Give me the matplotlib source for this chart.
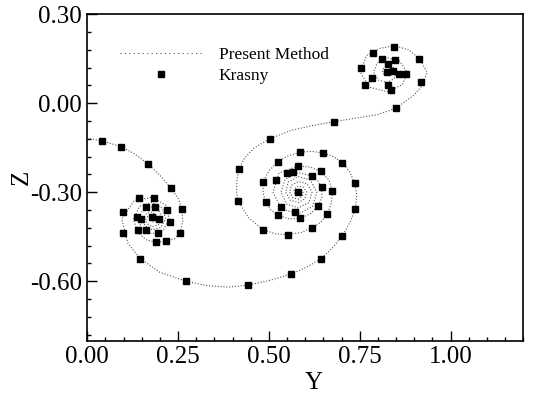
import matplotlib
matplotlib.use("Agg")
import matplotlib.pyplot as plt
from matplotlib.lines import Line2D
from matplotlib.ticker import MultipleLocator, AutoMinorLocator

# Present method: vortex sheet, one continuous curve (Y, Z) split by arm
arm_left_in = [
    (0.000, -0.118), (0.042, -0.127), (0.094, -0.147), (0.130, -0.170), (0.168, -0.205),
    (0.200, -0.243), (0.230, -0.285), (0.250, -0.320), (0.261, -0.356), (0.263, -0.398),
    (0.256, -0.437), (0.240, -0.457), (0.216, -0.465), (0.188, -0.469), (0.162, -0.460),
    (0.140, -0.437), (0.127, -0.390), (0.144, -0.348), (0.178, -0.334), (0.207, -0.354),
    (0.216, -0.390), (0.202, -0.419), (0.178, -0.426), (0.159, -0.413), (0.154, -0.390),
    (0.163, -0.371), (0.178, -0.367), (0.189, -0.376), (0.191, -0.390), (0.186, -0.399),
    (0.178, -0.400), (0.174, -0.395), (0.178, -0.390),
]
arm_left_out = [
    (0.183, -0.390), (0.184, -0.383), (0.178, -0.377), (0.168, -0.378), (0.162, -0.390),
    (0.165, -0.406), (0.178, -0.416), (0.195, -0.411), (0.205, -0.390), (0.199, -0.364),
    (0.178, -0.350), (0.153, -0.360), (0.140, -0.390), (0.150, -0.424), (0.178, -0.440),
    (0.209, -0.429), (0.226, -0.390), (0.216, -0.343), (0.178, -0.317), (0.129, -0.329),
    (0.095, -0.390), (0.112, -0.472), (0.146, -0.524), (0.200, -0.570), (0.273, -0.600),
    (0.330, -0.615), (0.390, -0.620), (0.443, -0.613), (0.500, -0.598), (0.561, -0.576),
    (0.605, -0.552), (0.643, -0.524), (0.675, -0.488), (0.702, -0.447), (0.724, -0.400),
    (0.738, -0.356), (0.742, -0.310), (0.736, -0.269), (0.722, -0.230), (0.702, -0.200),
    (0.678, -0.180), (0.650, -0.168), (0.618, -0.162), (0.586, -0.165),
]
arm_mid_in = [
    (0.552, -0.178), (0.524, -0.198), (0.500, -0.228), (0.484, -0.266), (0.484, -0.302),
    (0.491, -0.334), (0.506, -0.360), (0.526, -0.377), (0.556, -0.390), (0.586, -0.388),
    (0.615, -0.372), (0.636, -0.346), (0.646, -0.316), (0.645, -0.284), (0.635, -0.262),
    (0.619, -0.245), (0.581, -0.234), (0.545, -0.256), (0.533, -0.300), (0.549, -0.340),
    (0.581, -0.353), (0.610, -0.335), (0.619, -0.300), (0.605, -0.271), (0.581, -0.264),
    (0.562, -0.277), (0.557, -0.300), (0.566, -0.319), (0.581, -0.323), (0.592, -0.314),
    (0.594, -0.300), (0.589, -0.291), (0.581, -0.290), (0.577, -0.295), (0.581, -0.300),
]
arm_mid_out = [
    (0.581, -0.308), (0.574, -0.308), (0.569, -0.300), (0.571, -0.287), (0.581, -0.279),
    (0.595, -0.283), (0.604, -0.300), (0.599, -0.322), (0.581, -0.335), (0.559, -0.327),
    (0.546, -0.300), (0.553, -0.266), (0.581, -0.247), (0.614, -0.259), (0.632, -0.300),
    (0.620, -0.348), (0.581, -0.373), (0.535, -0.356), (0.511, -0.300), (0.528, -0.235),
    (0.581, -0.211), (0.616, -0.216), (0.643, -0.230), (0.666, -0.260), (0.675, -0.297),
    (0.672, -0.337), (0.660, -0.375), (0.642, -0.402), (0.619, -0.420), (0.588, -0.436),
    (0.553, -0.443), (0.518, -0.440), (0.485, -0.427), (0.444, -0.386), (0.415, -0.329),
    (0.411, -0.300), (0.412, -0.260), (0.417, -0.223), (0.433, -0.185), (0.459, -0.151),
    (0.502, -0.120), (0.560, -0.092), (0.620, -0.075), (0.680, -0.062), (0.740, -0.050),
    (0.800, -0.038), (0.849, -0.017),
]
arm_tip = [
    (0.898, 0.026), (0.924, 0.062), (0.935, 0.105), (0.915, 0.150), (0.885, 0.180),
    (0.845, 0.194), (0.805, 0.185), (0.769, 0.161), (0.751, 0.105), (0.777, 0.054),
    (0.826, 0.039), (0.868, 0.063), (0.880, 0.105), (0.860, 0.142), (0.826, 0.153),
    (0.798, 0.135), (0.788, 0.105), (0.802, 0.078), (0.826, 0.070), (0.845, 0.083),
    (0.850, 0.105), (0.841, 0.123), (0.826, 0.127), (0.815, 0.118), (0.813, 0.105),
    (0.818, 0.096), (0.826, 0.095), (0.830, 0.100), (0.829, 0.105),
]

# Krasny reference points
krasny_left = [
    (0.042, -0.127), (0.094, -0.147), (0.168, -0.205), (0.230, -0.285), (0.261, -0.356),
    (0.256, -0.437), (0.216, -0.465), (0.188, -0.469), (0.194, -0.436), (0.161, -0.427),
    (0.139, -0.428), (0.098, -0.436), (0.098, -0.366), (0.142, -0.320), (0.183, -0.320),
    (0.161, -0.350), (0.187, -0.351), (0.137, -0.384), (0.149, -0.390), (0.177, -0.385),
    (0.198, -0.390), (0.219, -0.360), (0.227, -0.399), (0.146, -0.524), (0.273, -0.600),
]
krasny_mid = [
    (0.443, -0.613), (0.561, -0.576), (0.643, -0.524), (0.702, -0.447), (0.738, -0.356),
    (0.736, -0.269), (0.702, -0.200), (0.650, -0.168), (0.586, -0.165), (0.524, -0.198),
    (0.484, -0.266), (0.491, -0.334), (0.526, -0.377), (0.586, -0.388), (0.636, -0.346),
    (0.645, -0.284), (0.619, -0.245), (0.579, -0.211), (0.549, -0.235), (0.519, -0.259),
    (0.533, -0.349), (0.572, -0.367), (0.643, -0.230), (0.675, -0.297), (0.660, -0.375),
    (0.619, -0.420), (0.553, -0.443), (0.485, -0.427), (0.415, -0.329), (0.417, -0.223),
    (0.502, -0.120), (0.680, -0.062), (0.565, -0.231), (0.581, -0.300),
]
krasny_tip = [
    (0.843, 0.190), (0.787, 0.171), (0.912, 0.150), (0.920, 0.073), (0.849, -0.017),
    (0.753, 0.120), (0.764, 0.061), (0.783, 0.086), (0.810, 0.148), (0.827, 0.131),
    (0.847, 0.146), (0.824, 0.104), (0.842, 0.109), (0.877, 0.099), (0.827, 0.061),
    (0.835, 0.045), (0.859, 0.099),
]

plt.rcParams['font.family'] = ['Liberation Serif', 'DejaVu Serif']

fig = plt.figure(figsize=(5.35, 3.96), dpi=100)
ax = fig.add_axes([0.163, 0.140, 0.815, 0.824])

sheet = arm_left_in + arm_left_out + arm_mid_in + arm_mid_out + arm_tip
ax.plot([p[0] for p in sheet], [p[1] for p in sheet], color='#555555',
        linestyle=(0, (1, 1.6)), linewidth=0.8)

pts = krasny_left + krasny_mid + krasny_tip
ax.plot([p[0] for p in pts], [p[1] for p in pts], linestyle='none',
        marker='s', markersize=4.8, color='black')

ax.set_xlim(0, 1.2)
ax.set_ylim(-0.8, 0.3)
ax.xaxis.set_major_locator(MultipleLocator(0.25))
ax.yaxis.set_major_locator(MultipleLocator(0.30))
ax.xaxis.set_minor_locator(AutoMinorLocator(5))
ax.yaxis.set_minor_locator(AutoMinorLocator(5))
ax.xaxis.set_major_formatter(lambda v, p: f"{v:.2f}")
ax.yaxis.set_major_formatter(lambda v, p: f"{v:.2f}")
ax.tick_params(which='both', direction='in', top=False, right=False, labelsize=18, width=1)
ax.tick_params(which='major', length=7, pad=4)
ax.tick_params(which='minor', length=3)
for s in ax.spines.values():
    s.set_linewidth(1.2)

ax.set_xlabel('Y', fontsize=18)
ax.set_ylabel('Z', fontsize=18)
ax.xaxis.set_label_coords(0.52, -0.097)
ax.yaxis.set_label_coords(-0.124, 0.5)

handles = [
    Line2D([], [], color='#555555', linestyle=(0, (1, 3)), linewidth=0.8),
    Line2D([], [], linestyle='none', marker='s', markersize=4.8, color='black'),
]
ax.legend(handles, ['Present Method', 'Krasny'], loc='upper left',
          bbox_to_anchor=(0.075, 0.90), frameon=False, fontsize=12.5,
          handlelength=4.7, handletextpad=1.0, labelspacing=0.3,
          borderpad=0, borderaxespad=0)

fig.savefig('out.png', dpi=100)
